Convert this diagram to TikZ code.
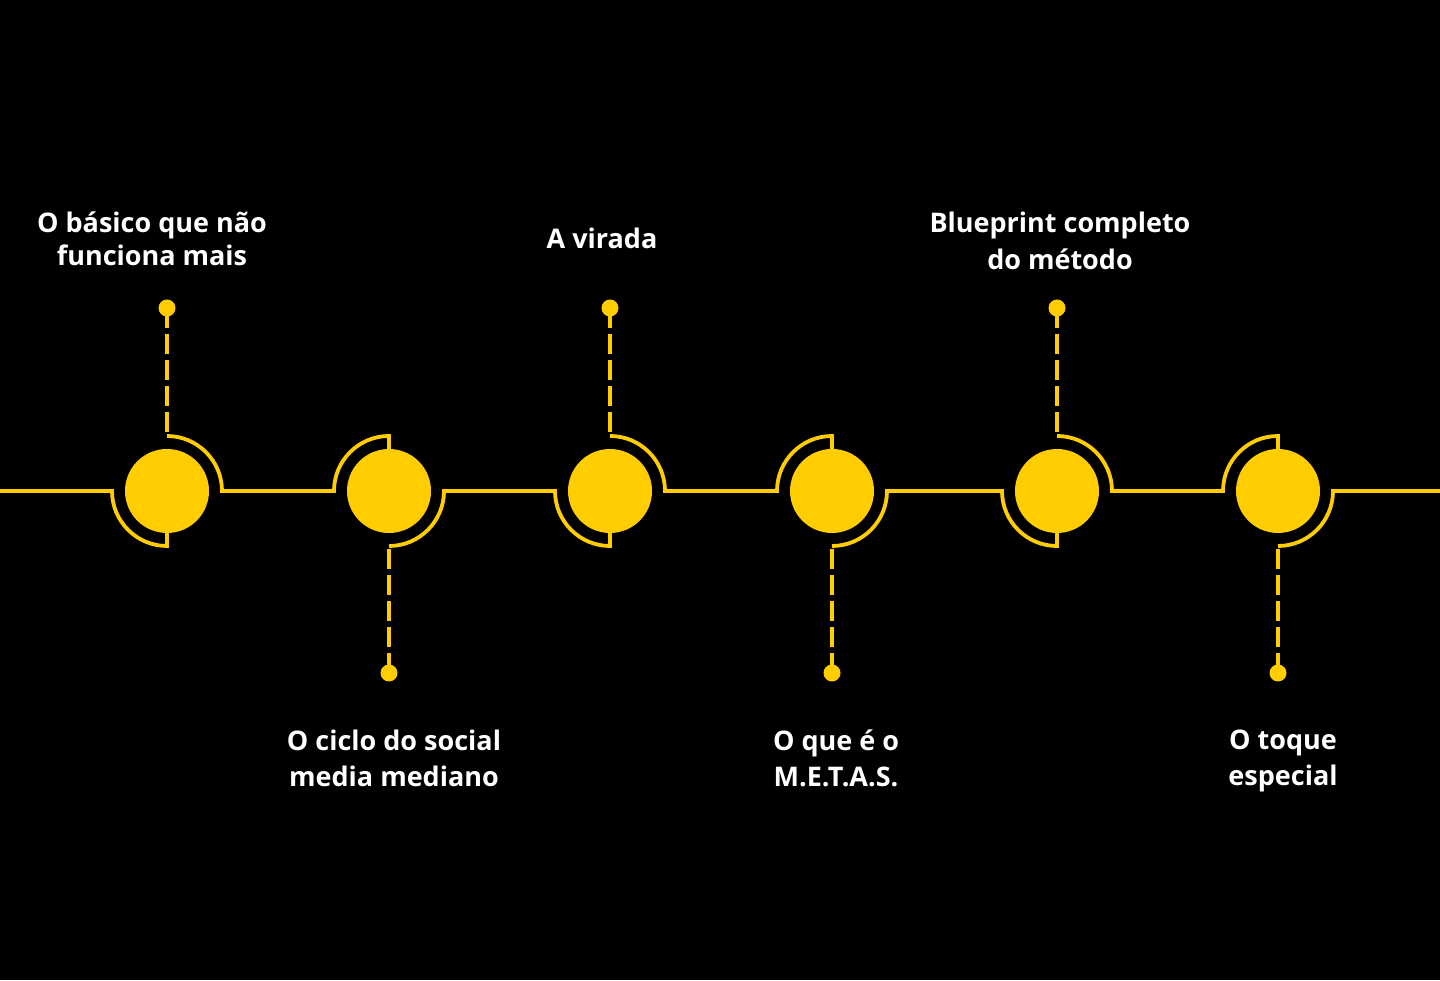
\documentclass[tikz,border=0pt]{standalone}
\usepackage{fontspec}
\setmainfont{Open Sans}
\usetikzlibrary{calc}
\definecolor{gold}{RGB}{255,205,0}
\begin{document}
\begin{tikzpicture}[x=1pt,y=1pt,
  hub/.style={circle,fill=gold,minimum size=84pt,inner sep=0pt},
  pin/.style={circle,fill=gold,minimum size=17pt,inner sep=0pt},
  rail/.style={draw=gold,line width=3.8pt},
  stem/.style={draw=gold,line width=3.8pt,dash pattern=on 20pt off 6pt},
  lbl/.style={text=white,font=\bfseries\fontsize{27}{33}\selectfont,align=center,inner sep=0pt}]
\fill[black] (0,0) rectangle (1440,980);
\useasboundingbox (0,0) rectangle (1440,980);

\coordinate (w) at (0,489);
\coordinate (e) at (1440,489);

\node[hub] (c1) at (167,489) {};
\node[hub] (c2) at (389,489) {};
\node[hub] (c3) at (610,489) {};
\node[hub] (c4) at (832,489) {};
\node[hub] (c5) at (1057,489) {};
\node[hub] (c6) at (1278,489) {};

\node[pin] (d1) at (167,672) {};
\node[pin] (d2) at (389,307) {};
\node[pin] (d3) at (610,672) {};
\node[pin] (d4) at (832,307) {};
\node[pin] (d5) at (1057,672) {};
\node[pin] (d6) at (1278,307) {};

% rail
\draw[rail] (w) -- ($(c1.center)+(-55,0)$) arc[start angle=180,end angle=270,radius=55] -- (c1.south);
\draw[rail] ($(c1.center)+(0,55)$) arc[start angle=90,end angle=0,radius=55] -- ($(c2.center)+(-55,0)$) arc[start angle=180,end angle=90,radius=55] -- (c2.north);
\draw[rail] ($(c2.center)+(0,-55)$) arc[start angle=270,end angle=360,radius=55] -- ($(c3.center)+(-55,0)$) arc[start angle=180,end angle=270,radius=55] -- (c3.south);
\draw[rail] ($(c3.center)+(0,55)$) arc[start angle=90,end angle=0,radius=55] -- ($(c4.center)+(-55,0)$) arc[start angle=180,end angle=90,radius=55] -- (c4.north);
\draw[rail] ($(c4.center)+(0,-55)$) arc[start angle=270,end angle=360,radius=55] -- ($(c5.center)+(-55,0)$) arc[start angle=180,end angle=270,radius=55] -- (c5.south);
\draw[rail] ($(c5.center)+(0,55)$) arc[start angle=90,end angle=0,radius=55] -- ($(c6.center)+(-55,0)$) arc[start angle=180,end angle=90,radius=55] -- (c6.north);
\draw[rail] ($(c6.center)+(0,-55)$) arc[start angle=270,end angle=360,radius=55] -- (e);

% stems
\draw[stem] (d1.center) -- ($(c1.center)+(0,55)$);
\draw[stem] (d2.center) -- ($(c2.center)+(0,-55)$);
\draw[stem] (d3.center) -- ($(c3.center)+(0,55)$);
\draw[stem] (d4.center) -- ($(c4.center)+(0,-55)$);
\draw[stem] (d5.center) -- ($(c5.center)+(0,55)$);
\draw[stem] (d6.center) -- ($(c6.center)+(0,-55)$);

% labels
\node[lbl] (t1) at (152,741) {O básico que não\\funciona mais};
\node[lbl] (t2) at (602,742) {A virada};
\node[lbl] (t3) at (1060,739) {Blueprint completo\\[4pt]do método};
\node[lbl] (t4) at (394,222) {O ciclo do social\\[3pt]media mediano};
\node[lbl] (t5) at (836,222) {O que é o\\[3pt]M.E.T.A.S.};
\node[lbl] (t6) at (1283,219) {O toque\\[3pt]especial};
\end{tikzpicture}
\end{document}
